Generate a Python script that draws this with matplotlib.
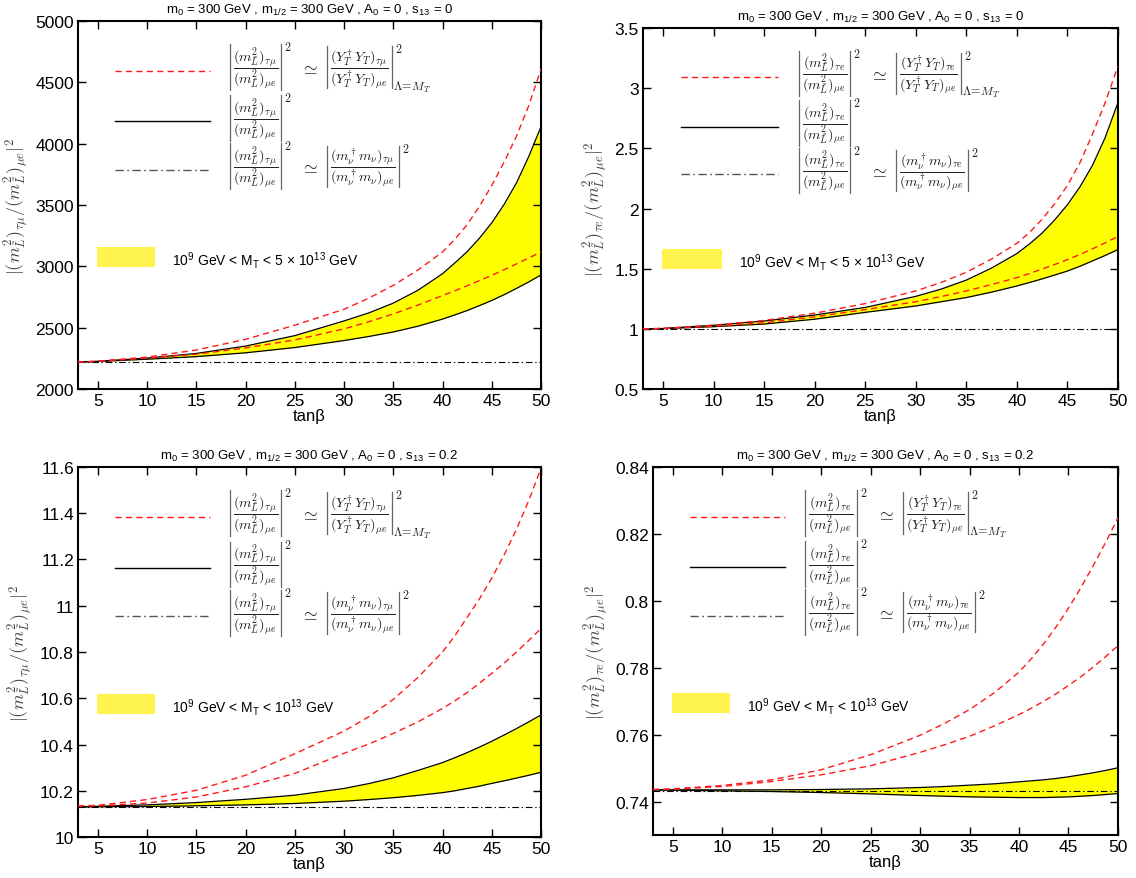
import matplotlib
matplotlib.use("Agg")
import matplotlib.pyplot as plt
from matplotlib.patches import Rectangle
from matplotlib.lines import Line2D
from matplotlib.transforms import IdentityTransform
from matplotlib.ticker import FuncFormatter

plt.rcParams["font.family"] = ["Liberation Sans", "DejaVu Sans"]
plt.rcParams["mathtext.fontset"] = "custom"
plt.rcParams["mathtext.rm"] = "Liberation Sans"
plt.rcParams["mathtext.it"] = "Liberation Sans:italic"
plt.rcParams["mathtext.bf"] = "Liberation Sans:bold"

# tan(beta) grid (denser where they get steep)
tan_beta = [3, 5, 10, 15, 20, 25, 30, 32.5, 35, 37.5, 40, 41.25, 42.5, 43.75, 45, 46.25, 47.5, 48.75, 50]

# top-left: tau-mu, s13 = 0
tm0_upper = [2220, 2226, 2252, 2290, 2350, 2435, 2555, 2620, 2700, 2805, 2940, 3028, 3120, 3230, 3355, 3505, 3680, 3895, 4140]
tm0_lower = [2220, 2224, 2243, 2264, 2295, 2338, 2395, 2428, 2465, 2512, 2570, 2604, 2640, 2680, 2722, 2769, 2820, 2873, 2930]
tm0_red_hi = [2220, 2227, 2260, 2318, 2405, 2520, 2650, 2740, 2845, 2970, 3117, 3220, 3340, 3490, 3660, 3850, 4060, 4310, 4610]
tm0_red_lo = [2220, 2225, 2252, 2283, 2335, 2400, 2490, 2548, 2612, 2684, 2762, 2801, 2842, 2884, 2927, 2972, 3020, 3068, 3117]
tm0_flat = 2220

# top-right: tau-e, s13 = 0
te0_upper = [1.0, 1.003, 1.03, 1.065, 1.115, 1.178, 1.27, 1.33, 1.405, 1.505, 1.625, 1.705, 1.795, 1.905, 2.03, 2.18, 2.36, 2.59, 2.877]
te0_lower = [1.0, 1.002, 1.018, 1.04, 1.08, 1.137, 1.19, 1.225, 1.26, 1.305, 1.356, 1.385, 1.415, 1.447, 1.48, 1.52, 1.565, 1.61, 1.658]
te0_red_hi = [1.0, 1.004, 1.03, 1.07, 1.13, 1.21, 1.315, 1.385, 1.47, 1.58, 1.71, 1.80, 1.91, 2.04, 2.19, 2.38, 2.62, 2.88, 3.18]
te0_red_lo = [1.0, 1.003, 1.022, 1.05, 1.10, 1.16, 1.225, 1.268, 1.315, 1.368, 1.425, 1.46, 1.497, 1.535, 1.575, 1.618, 1.665, 1.715, 1.767]
te0_flat = 1.0

# bottom-left: tau-mu, s13 = 0.2
tm2_upper = [10.13, 10.133, 10.139, 10.149, 10.163, 10.181, 10.21, 10.231, 10.256, 10.288, 10.322, 10.343, 10.365, 10.389, 10.414, 10.441, 10.469, 10.498, 10.528]
tm2_lower = [10.13, 10.131, 10.132, 10.135, 10.139, 10.145, 10.155, 10.162, 10.17, 10.18, 10.192, 10.2, 10.21, 10.22, 10.232, 10.243, 10.255, 10.267, 10.28]
tm2_red_hi = [10.135, 10.137, 10.162, 10.202, 10.267, 10.36, 10.458, 10.52, 10.595, 10.69, 10.80, 10.87, 10.95, 11.03, 11.12, 11.22, 11.33, 11.455, 11.595]
tm2_red_lo = [10.134, 10.135, 10.147, 10.173, 10.217, 10.275, 10.362, 10.402, 10.448, 10.498, 10.556, 10.589, 10.625, 10.665, 10.708, 10.752, 10.80, 10.85, 10.902]
tm2_flat = 10.13

# bottom-right: tau-e, s13 = 0.2
te2_upper = [0.7435, 0.7435, 0.7435, 0.7435, 0.7436, 0.7438, 0.7442, 0.7445, 0.7449, 0.7453, 0.7459, 0.7462, 0.7465, 0.7469, 0.7474, 0.748, 0.7486, 0.7493, 0.7501]
te2_lower = [0.7435, 0.7434, 0.7432, 0.7430, 0.7427, 0.7423, 0.7418, 0.7416, 0.7414, 0.7413, 0.7412, 0.7412, 0.7412, 0.7413, 0.7414, 0.7416, 0.7418, 0.7421, 0.7424]
te2_red_hi = [0.7436, 0.7438, 0.7448, 0.7465, 0.7495, 0.7540, 0.7598, 0.7634, 0.7675, 0.7725, 0.7787, 0.7827, 0.7872, 0.7922, 0.7978, 0.8039, 0.8105, 0.8174, 0.8248]
te2_red_lo = [0.7436, 0.7437, 0.7445, 0.746, 0.748, 0.7507, 0.7547, 0.757, 0.7595, 0.7626, 0.7660, 0.7679, 0.7700, 0.7722, 0.7747, 0.7773, 0.7802, 0.7833, 0.7866]
te2_flat = 0.7432

title_s0 = r"m$_\mathrm{0}$ = 300 GeV , m$_\mathrm{1/2}$ = 300 GeV , A$_\mathrm{0}$ = 0 , s$_\mathrm{13}$ = 0"
title_s2 = r"m$_\mathrm{0}$ = 300 GeV , m$_\mathrm{1/2}$ = 300 GeV , A$_\mathrm{0}$ = 0 , s$_\mathrm{13}$ = 0.2"
band_5e13 = r"10$^\mathrm{9}$ GeV < M$_\mathrm{T}$ < 5 $\times$ 10$^\mathrm{13}$ GeV"
band_1e13 = r"10$^\mathrm{9}$ GeV < M$_\mathrm{T}$ < 10$^\mathrm{13}$ GeV"

PX = IdentityTransform()
FORM_FS = 10.2
FORM_COL = "#222222"


def put(ax, x, y, s, fs, va="center"):
    t = ax.text(x, y, s, transform=PX, fontsize=fs, math_fontfamily="cm",
                va=va, ha="left", color=FORM_COL)
    return t.get_window_extent(renderer)


def abs_block(ax, x, y, frac, sub=None):
    # |frac|^2 with optional lower index, built piece by piece in pixels
    bb = put(ax, x + 3, y, frac, FORM_FS)
    y0, y1 = bb.y0 + 1, bb.y1
    xr = bb.x1 + 3
    for xx in (x, xr):
        ax.add_artist(Line2D([xx, xx], [y0, y1], transform=PX, color="#666666", lw=0.9))
    sup = put(ax, xr + 3, y1 + 4, "$2$", FORM_FS * 0.85, va="top")
    if sub is not None:
        put(ax, xr + 1, y0 + 2, sub, FORM_FS * 0.85)
    return sup.x1


def formula_row(ax, ax_x, ax_y, lhs, rhs=None, rhs_sub=None):
    x, y = ax.transAxes.transform((ax_x, ax_y))
    y += 3
    xe = abs_block(ax, x, y, lhs)
    if rhs is None:
        return
    sb = put(ax, xe + 9, y - 1, r"$\simeq$", FORM_FS * 1.25)
    abs_block(ax, sb.x1 + 9, y, rhs, rhs_sub)


def draw_panel(rect, y_hi, y_lo, r_hi, r_lo, flat, ylim, yticks, title, band_txt, sub, ylab):
    ax = fig.add_axes(rect)
    ax.fill_between(tan_beta, y_lo, y_hi, color="#ffff00", lw=0, zorder=1)
    ax.plot(tan_beta, y_hi, color="black", lw=0.9, zorder=3)
    ax.plot(tan_beta, y_lo, color="black", lw=0.9, zorder=3)
    ax.plot(tan_beta, r_hi, color="#ff1a1a", lw=1.0, dashes=(4.5, 3), zorder=4)
    ax.plot(tan_beta, r_lo, color="#ff1a1a", lw=1.0, dashes=(4.5, 3), zorder=4)
    ax.plot([tan_beta[0], tan_beta[-1]], [flat, flat], color="black", lw=0.8,
            dashes=(6, 2.5, 1.2, 2.5), zorder=2)

    ax.set_xlim(3, 50)
    ax.set_ylim(*ylim)
    ax.set_xticks(range(5, 51, 5))
    ax.set_yticks(yticks)
    ax.yaxis.set_major_formatter(FuncFormatter(lambda v, p: "%g" % round(v, 4)))
    ax.tick_params(direction="in", top=True, right=True, length=6, width=1,
                   labelsize=12.5, pad=3)
    for s in ax.spines.values():
        s.set_linewidth(1.5)
    ax.set_xlabel("tan\u03b2", fontsize=12, labelpad=0)
    ax.set_ylabel(ylab, fontsize=13, math_fontfamily="cm", color="#444444", labelpad=4)
    ax.set_title(title, fontsize=9.5, pad=6)

    # hand-made legend in axes coordinates
    tr = ax.transAxes
    ax.plot([0.08, 0.285], [0.865, 0.865], color="#ff1a1a", lw=1.0, dashes=(4.5, 3), transform=tr)
    ax.plot([0.08, 0.285], [0.727, 0.727], color="black", lw=1.0, transform=tr)
    ax.plot([0.08, 0.285], [0.596, 0.596], color="#555555", lw=1.0,
            dashes=(6, 2.5, 1.2, 2.5), transform=tr)
    f_lhs = r"$\dfrac{(m^2_{\tilde{L}})_{%s}}{(m^2_{\tilde{L}})_{\mu e}}$" % sub
    f_y = r"$\dfrac{(Y_T^\dagger Y_T)_{%s}}{(Y_T^\dagger Y_T)_{\mu e}}$" % sub
    f_m = r"$\dfrac{(m_\nu^\dagger m_\nu)_{%s}}{(m_\nu^\dagger m_\nu)_{\mu e}}$" % sub
    formula_row(ax, 0.328, 0.865, f_lhs, f_y, r"$\Lambda\!=\!M_T$")
    formula_row(ax, 0.328, 0.727, f_lhs)
    formula_row(ax, 0.328, 0.596, f_lhs, f_m)
    ax.add_patch(Rectangle((0.041, 0.332), 0.125, 0.055, transform=tr,
                           facecolor="#fff44f", edgecolor="none"))
    ax.text(0.203, 0.352, band_txt, transform=tr, fontsize=10, va="center", ha="left")
    return ax


fig = plt.figure(figsize=(11.36, 8.79), dpi=100)
renderer = fig.canvas.get_renderer()

ylab_tm = r"$|(m^2_{\tilde{L}})_{\tau\mu}/(m^2_{\tilde{L}})_{\mu e}|^2$"
ylab_te = r"$|(m^2_{\tilde{L}})_{\tau e}/(m^2_{\tilde{L}})_{\mu e}|^2$"

draw_panel([0.0687, 0.5563, 0.4076, 0.4187], tm0_upper, tm0_lower, tm0_red_hi, tm0_red_lo,
           tm0_flat, (2000, 5000), range(2000, 5001, 500), title_s0, band_5e13, r"\tau\mu", ylab_tm)
draw_panel([0.566, 0.5563, 0.418, 0.4107], te0_upper, te0_lower, te0_red_hi, te0_red_lo,
           te0_flat, (0.5, 3.5), [0.5, 1, 1.5, 2, 2.5, 3, 3.5], title_s0, band_5e13, r"\tau e", ylab_te)
draw_panel([0.0687, 0.0466, 0.4076, 0.421], tm2_upper, tm2_lower, tm2_red_hi, tm2_red_lo,
           tm2_flat, (10, 11.6), [10, 10.2, 10.4, 10.6, 10.8, 11, 11.2, 11.4, 11.6],
           title_s2, band_1e13, r"\tau\mu", ylab_tm)
draw_panel([0.5748, 0.0489, 0.4093, 0.4187], te2_upper, te2_lower, te2_red_hi, te2_red_lo,
           te2_flat, (0.73, 0.84), [0.74, 0.76, 0.78, 0.8, 0.82, 0.84],
           title_s2, band_1e13, r"\tau e", ylab_te)

fig.savefig("out.png", dpi=100)
